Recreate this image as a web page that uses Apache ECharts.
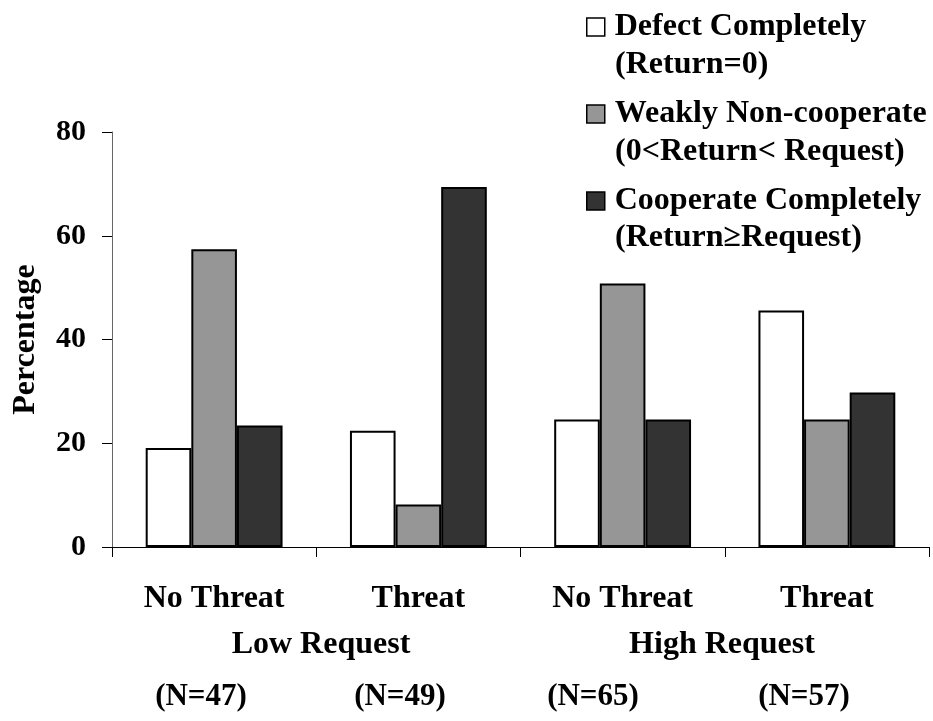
<!DOCTYPE html>
<html><head><meta charset="utf-8">
<script src="https://cdn.jsdelivr.net/npm/echarts@6/dist/echarts.min.js"></script>
<style>html,body{margin:0;padding:0;background:#fff}#c{width:933px;height:721px}</style>
</head><body><div id="c"></div>
<script>
var categories = ['No Threat', 'Threat', 'No Threat', 'Threat'];
var groupLabels = ['Low Request', 'High Request'];
var nLabels = ['(N=47)', '(N=49)', '(N=65)', '(N=57)'];
var seriesNames = ['Defect Completely', 'Weakly Non-cooperate', 'Cooperate Completely'];
var seriesSub = ['(Return=0)', '(0<Return< Request)', '(Return\u2265Request)'];
var defectVals = [19.1, 22.4, 24.6, 45.6];
var weakVals = [57.4, 8.2, 50.8, 24.6];
var coopVals = [23.4, 69.4, 24.6, 29.8];
var yTicks = [0, 20, 40, 60, 80];

var FONT = '"Liberation Serif", "Times New Roman", serif';
var colors = ['#ffffff', '#969696', '#333333'];
var chart = echarts.init(document.getElementById('c'));
var txt = {fontFamily: FONT, fontWeight: 'bold', fontSize: 32, color: '#000'};

function bar(i, data) {
  return {
    name: seriesNames[i], type: 'bar', data: data, barGap: '0%', barCategoryGap: '33%',
    itemStyle: {color: colors[i], borderColor: '#000', borderWidth: 2},
    emphasis: {disabled: true}
  };
}

var graphics = [];
[[321, groupLabels[0]], [722, groupLabels[1]]].forEach(function (g) {
  graphics.push({type: 'text', x: g[0], y: 645, style: {text: g[1], textAlign: 'center', textVerticalAlign: 'middle', fill: '#000', fontFamily: FONT, fontWeight: 'bold', fontSize: 32}});
});
var nPos = [201, 400, 593, 804];
nLabels.forEach(function (t, i) {
  graphics.push({type: 'text', x: nPos[i], y: 697, style: {text: t, textAlign: 'center', textVerticalAlign: 'middle', fill: '#000', fontFamily: FONT, fontWeight: 'bold', fontSize: 31}});
});
var subMid = [65, 152, 238];
seriesSub.forEach(function (t, i) {
  graphics.push({type: 'text', x: 615, y: subMid[i], style: {text: t, textVerticalAlign: 'middle', fill: '#000', fontFamily: FONT, fontWeight: 'bold', fontSize: 32}});
});

chart.setOption({
  animation: false,
  backgroundColor: '#fff',
  grid: {left: 112, right: 4, top: 132, bottom: 174, containLabel: false},
  legend: {
    orient: 'vertical', left: 581, top: 6, itemGap: 55,
    icon: 'rect', itemWidth: 18, itemHeight: 18,
    itemStyle: {borderColor: '#000', borderWidth: 1.5},
    textStyle: {fontFamily: FONT, fontWeight: 'bold', fontSize: 32, color: '#000', padding: [0, 0, 0, 5]},
    data: seriesNames, selectedMode: false
  },
  xAxis: {
    type: 'category', data: categories,
    axisLine: {lineStyle: {color: '#000', width: 1}},
    axisTick: {show: true, length: 10, lineStyle: {color: '#000'}},
    axisLabel: Object.assign({margin: 36}, txt)
  },
  yAxis: {
    type: 'value', min: yTicks[0], max: yTicks[yTicks.length - 1], interval: 20,
    name: 'Percentage', nameLocation: 'middle', nameGap: 70, nameRotate: 90,
    nameTextStyle: {fontFamily: FONT, fontWeight: 'bold', fontSize: 32, color: '#000'},
    splitLine: {show: false},
    axisLine: {show: true, lineStyle: {color: '#666', width: 1}},
    axisTick: {show: true, length: 10, lineStyle: {color: '#000'}},
    axisLabel: Object.assign({}, txt, {margin: 26, fontSize: 30})
  },
  series: [bar(0, defectVals), bar(1, weakVals), bar(2, coopVals)],
  graphic: graphics
});
</script></body></html>
